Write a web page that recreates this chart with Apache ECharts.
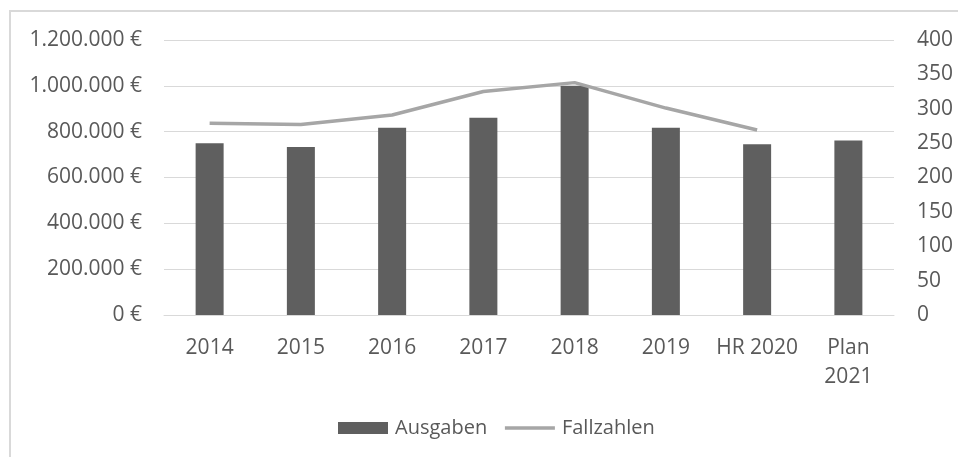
<!DOCTYPE html>
<html>
<head>
<meta charset="utf-8">
<script src="https://cdn.jsdelivr.net/npm/echarts@6/dist/echarts.min.js"></script>
<style>
  html, body { margin: 0; padding: 0; background: #fff; }
  #chart { width: 958px; height: 457px; }
</style>
</head>
<body>
<div id="chart"></div>
<script>
// Kategorien und Werte
const categories = ['2014', '2015', '2016', '2017', '2018', '2019', 'HR 2020', 'Plan\n2021']
const ausgaben = [749000, 733000, 817000, 861000, 1000000, 817000, 745000, 761000]
const fallzahlen = [279, 277, 291, 325, 338, 301, 269, null]

const textColor = '#595959'
const fontFam = 'Open Sans'

// 1200000 -> "1.200.000 €"
const euro = (v) => String(v).replace(/\B(?=(\d{3})+(?!\d))/g, '.') + ' €'

let chart = echarts.init(document.getElementById('chart'))
let option = {
  animation: false,
  backgroundColor: '#fff',
  textStyle: { fontFamily: fontFam, color: textColor },
  graphic: [
    {
      type: 'rect',
      shape: { x: 10, y: 11, width: 960, height: 460 },
      style: { fill: 'none', stroke: '#d9d9d9', lineWidth: 2 },
      silent: true
    }
  ],
  grid: { left: 164, right: 64, top: 40, bottom: 142 },
  legend: {
    bottom: 14,
    left: 333,
    itemWidth: 50,
    itemHeight: 12,
    itemGap: 16,
    textStyle: { fontFamily: fontFam, fontSize: 20, color: textColor, padding: [0, 0, 0, 2] },
    data: [
      { name: 'Ausgaben', icon: 'rect' },
      // nur die Linie, ohne Punkt
      {
        name: 'Fallzahlen',
        itemStyle: { opacity: 0, color: 'rgba(0,0,0,0)' },
        lineStyle: { width: 3.5, color: '#a6a6a6' }
      }
    ]
  },
  xAxis: {
    type: 'category',
    data: categories,
    axisTick: { show: false },
    axisLine: { lineStyle: { color: '#d9d9d9', width: 1 } },
    axisLabel: {
      color: textColor, fontFamily: fontFam, fontSize: 21,
      lineHeight: 29, margin: 19, interval: 0
    }
  },
  yAxis: [
    {
      type: 'value',
      min: 0, max: 1200000, interval: 200000,
      axisLine: { show: false },
      axisTick: { show: false },
      splitLine: { lineStyle: { color: '#d9d9d9', width: 1 } },
      axisLabel: {
        color: textColor, fontFamily: fontFam, fontSize: 21, margin: 22,
        formatter: euro
      }
    },
    {
      type: 'value',
      min: 0, max: 400, interval: 50,
      axisLine: { show: false },
      axisTick: { show: false },
      splitLine: { show: false },
      axisLabel: { color: textColor, fontFamily: fontFam, fontSize: 21, margin: 23 }
    }
  ],
  series: [
    {
      name: 'Ausgaben',
      type: 'bar',
      data: ausgaben,
      barWidth: 28,
      itemStyle: { color: '#5f5f5f' }
    },
    {
      name: 'Fallzahlen',
      type: 'line',
      yAxisIndex: 1,
      data: fallzahlen,
      symbol: 'none',
      lineStyle: { color: '#a6a6a6', width: 3.5 },
      itemStyle: { color: '#a6a6a6' }
    }
  ]
}
chart.setOption(option)
</script>
</body>
</html>
